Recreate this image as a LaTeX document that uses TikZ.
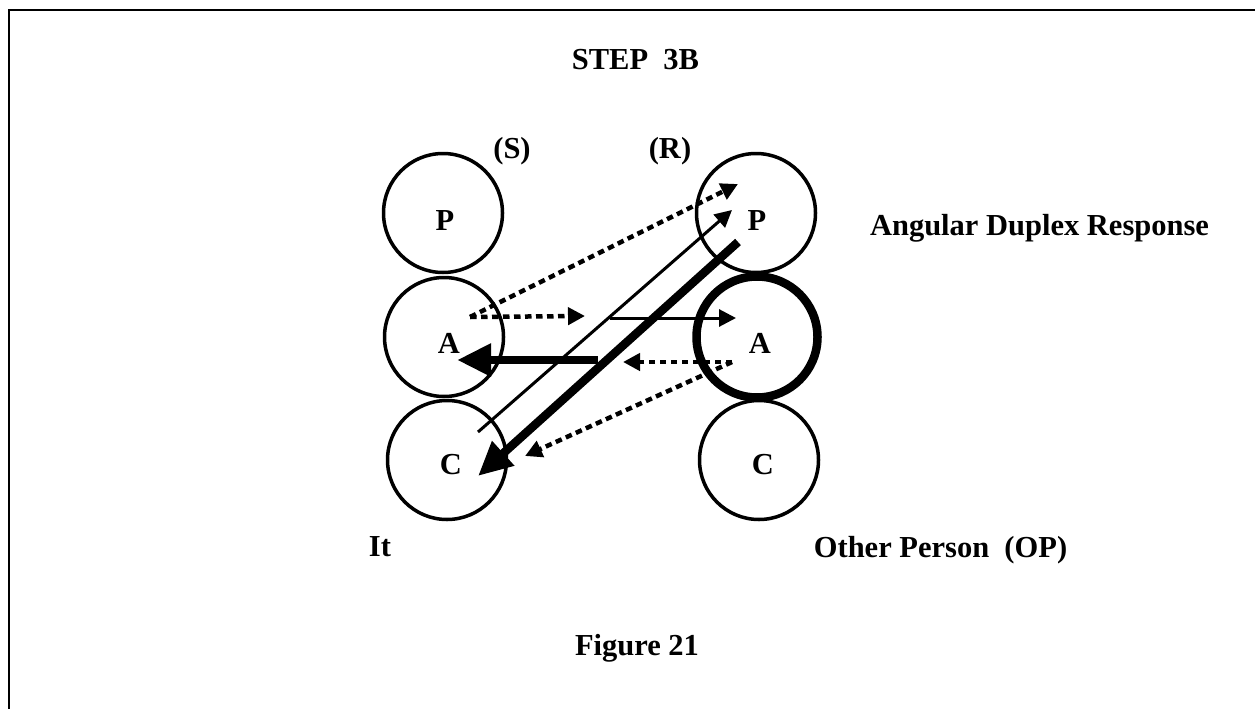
\documentclass[tikz,border=0pt]{standalone}
\usepackage{fontspec}
\setmainfont{Liberation Serif}
\usetikzlibrary{arrows.meta}
\begin{document}
\begin{tikzpicture}[x=1pt,y=-1pt,
  lbl/.style={font=\fontsize{30.5}{36}\selectfont\bfseries, inner sep=0pt, anchor=base},
  circ/.style={circle, draw, line width=3.5pt, minimum size=119pt, inner sep=0pt},
  thickcirc/.style={circ, line width=8.5pt, minimum size=121pt},
  dotarrow/.style={line width=4.5pt, dash pattern=on 6.5pt off 4.5pt, -{Triangle[length=17pt,width=17pt]}},
  thinarrow/.style={line width=3pt, -{Triangle[length=17pt,width=17pt]}},
  thickarrow/.style={line width=8.5pt, -{Triangle[length=34pt,width=31pt]}},
  frame/.style={line width=2pt}
]
\useasboundingbox (0,0) rectangle (1255,709);
\draw[frame] (9,709) -- (9,10) -- (1255,10);

% circles
\node[circ] (PS) at (443,213) {};
\node[circ] (AS) at (444,337) {};
\node[circ] (CS) at (447,460) {};
\node[circ] (PR) at (756,213) {};
\node[thickcirc] (AR) at (757,337) {};
\node[circ] (CR) at (759,460) {};

% letters
\node[lbl] (tPS) at (445,230) {P};
\node[lbl] (tAS) at (449,353) {A};
\node[lbl] (tCS) at (451,474) {C};
\node[lbl] (tPR) at (757,230) {P};
\node[lbl] (tAR) at (760,353) {A};
\node[lbl] (tCR) at (763,474) {C};

% texts
\node[lbl] (step) at (635.5,70) {STEP\ \ 3B};
\node[lbl] (sender) at (512,158) {(S)};
\node[lbl] (receiver) at (670,158) {(R)};
\node[lbl] (adr) at (1039.5,235) {Angular Duplex Response};
\node[lbl] (it) at (380,556) {It};
\node[lbl] (op) at (940.5,557) {Other Person\ \ (OP)};
\node[lbl] (fig) at (637,655) {Figure 21};

% arrow end points
\coordinate (a1) at (470,317);
\coordinate (a1t) at (738,184);
\coordinate (a2t) at (585,316);
\coordinate (b1) at (610,318);
\coordinate (b1t) at (736,318);
\coordinate (c1) at (478,432);
\coordinate (c1t) at (732,210);
\coordinate (d1) at (738,242);
\coordinate (d1t) at (478,476);
\coordinate (e1) at (598,360);
\coordinate (e1t) at (457,360);
\coordinate (f1) at (732,362);
\coordinate (f1t) at (623,362);
\coordinate (f2t) at (525,456);

% arrows
\draw[dotarrow] (a1) -- (a1t);
\draw[dotarrow] (a1) -- (a2t);
\draw[thinarrow] (b1) -- (b1t);
\draw[thinarrow] (c1) -- (c1t);
\draw[thickarrow] (d1) -- (d1t);
\draw[thickarrow] (e1) -- (e1t);
\draw[dotarrow] (f1) -- (f1t);
\draw[dotarrow] (f1) -- (f2t);
\end{tikzpicture}
\end{document}
